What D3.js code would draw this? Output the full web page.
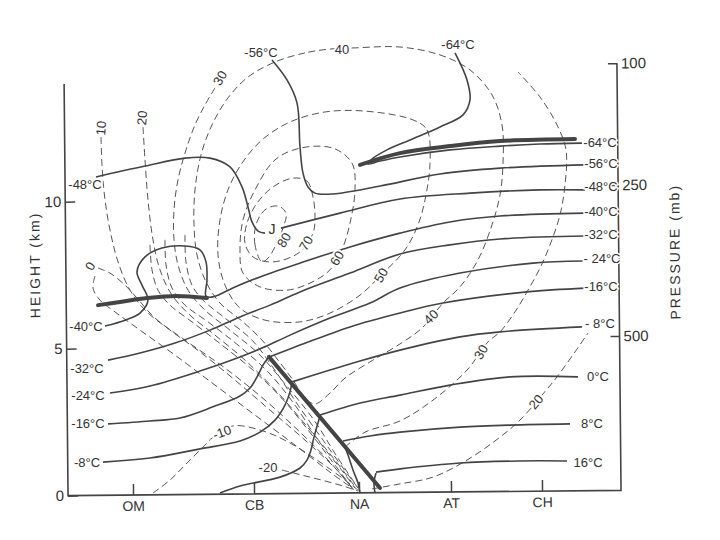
<!DOCTYPE html>
<html><head><meta charset="utf-8">
<script src="https://cdn.jsdelivr.net/npm/d3@7"></script>
<style>body{margin:0;background:#fff}text{font-family:"Liberation Sans",Arial,sans-serif}</style>
</head><body>
<svg id="c" width="720" height="540"></svg>
<script>
// ---------- DATA (distance along section in km, height in km) ----------
const stations = ["OM","CB","NA","AT","CH"];
const stationDist = [130, 372, 582, 766, 948];
const heightTicks = [0, 5, 10];
const pressureTicks = [100, 250, 500];
const pressureHeights = [14.53, 10.39, 5.25];

// isotherms (solid)
const T_m64 = [[778,14.97],[802,14.05],[808,13.37],[794,12.86],[748,12.45],[688,12.01],[642,11.67],[612,11.36],[604,11.19],[628,11.29],[668,11.43],[768,11.67],[868,11.80],[948,11.87],[1032,11.90]];
const T_m56 = [[412,14.73],[442,14.05],[462,13.27],[468,11.77],[474,10.88],[484,10.41],[498,10.20],[534,10.17],[628,10.44],[748,10.85],[868,11.05],[1038,11.16]];
const T_m48a = [[60,10.75],[158,11.12],[238,11.39],[288,11.39],[328,11.09],[352,10.41],[364,9.73],[372,9.22],[384,8.91],[398,8.84]];
const T_m48b = [[430,9.01],[548,9.52],[668,10.00],[808,10.20],[948,10.31],[1038,10.31]];
const T_m40 = [[78,5.68],[118,5.88],[148,6.12],[164,6.56],[152,7.07],[142,7.52],[158,8.03],[192,8.33],[238,8.40],[268,8.27],[280,7.86],[282,7.24],[280,6.70],[294,6.67],[338,7.01],[388,7.35],[468,7.82],[568,8.37],[668,8.84],[768,9.22],[868,9.42],[1038,9.52]];
const T_m32 = [[84,4.52],[148,4.76],[218,5.10],[288,5.54],[348,5.99],[408,6.39],[468,6.84],[568,7.48],[668,8.13],[768,8.44],[868,8.64],[1038,8.74]];
const T_m24 = [[88,3.40],[168,3.64],[268,4.15],[348,4.63],[392,4.93],[448,5.37],[528,5.95],[608,6.46],[668,6.97],[788,7.48],[934,7.82],[1034,7.89]];
const T_m16a = [[84,2.35],[168,2.45],[228,2.55],[294,2.93],[348,3.30],[368,3.57],[384,4.01],[394,4.35],[404,4.59]];
const T_m16b = [[406,4.63],[468,5.03],[568,5.65],[668,6.12],[754,6.46],[922,6.84],[1038,6.97]];
const T_m8a = [[74,1.05],[168,1.19],[268,1.50],[348,1.77],[388,2.07],[418,2.48],[438,2.99],[448,3.44],[452,3.78]];
const T_m8b = [[452,3.78],[528,4.18],[588,4.49],[668,4.86],[788,5.31],[868,5.48],[1032,5.65]];
const T_0a = [[308,0],[348,0.24],[428,0.54],[468,0.85],[482,1.12],[490,1.46],[496,1.90],[508,2.62]];
const T_0b = [[508,2.65],[588,3.06],[668,3.33],[768,3.67],[888,3.95],[1024,3.95]];
const T_8a = [[588,0],[584,0.34],[574,0.78],[564,1.29],[554,1.73]];
const T_8b = [[554,1.77],[608,1.94],[668,2.07],[788,2.24],[888,2.31],[1008,2.35]];
const T_16a = [[618,0],[616,0.37],[620,0.68]];
const T_16b = [[620,0.71],[668,0.82],[788,1.02],[908,1.09],[1002,1.09]];

// tropopause & front (thick)
const tropLeft = [[64,6.39],[108,6.50],[162,6.63],[222,6.70],[282,6.63]];
const tropRight = [[588,11.16],[668,11.56],[768,11.80],[868,11.97],[1018,12.04]];
const front = [[406,4.63],[628,0.17]];

// isotachs (dashed, m/s)
const V80 = [[392,7.86],[378,8.44],[380,9.12],[398,9.63],[424,9.76],[440,9.52],[434,9.01],[420,8.44],[404,7.99]];
const V70 = [[454,10.71],[482,10.61],[494,10.07],[498,9.39],[494,8.84],[468,8.20],[414,7.86],[374,8.03],[358,8.50],[362,9.18],[382,9.86],[414,10.41]];
const V60 = [[348,8.27],[354,9.29],[378,10.31],[418,11.33],[468,11.73],[534,11.73],[572,11.22],[578,10.31],[568,9.18],[554,8.37],[528,7.59],[488,7.14],[442,6.90],[388,7.01],[354,7.48]];
const V50 = [[694,12.69],[722,12.35],[728,11.22],[718,9.97],[704,9.12],[678,8.27],[630,7.41],[588,6.73],[528,6.12],[468,5.82],[398,5.88],[348,6.29],[318,7.07],[304,8.10],[308,9.29],[324,10.31],[352,11.22],[392,12.01],[448,12.62],[518,12.96],[598,12.99]];
const V40 = [[528,15.10],[478,14.97],[418,14.66],[364,14.15],[324,13.44],[292,12.52],[270,11.50],[258,10.31],[256,9.12],[262,8.10],[280,7.18],[308,6.46],[354,5.82],[392,5.20],[424,4.52],[454,3.84],[478,3.23],[498,3.03],[528,3.40],[558,3.91],[608,4.46],[668,5.07],[712,5.61],[754,6.46],[788,7.01],[824,7.93],[852,9.12],[868,10.14],[874,11.22],[872,12.52],[852,13.54],[808,14.39],[748,14.90],[668,15.17],[578,15.14]];
const V30L = [[298,13.78],[278,13.20],[258,12.52],[240,11.67],[224,10.65],[216,9.63],[216,8.61],[224,7.76],[244,6.90],[278,6.22],[328,5.54],[388,4.69],[440,3.67],[496,2.48],[540,1.29],[584,0.17]];
const V30R = [[558,1.56],[598,2.07],[668,2.45],[734,3.16],[802,4.18],[844,5.14],[868,5.48],[898,6.16],[922,6.84],[948,7.65],[968,8.44],[988,9.46],[998,10.48],[1000,11.67],[982,12.52],[948,13.47],[904,14.32]];
const V20L = [[154,12.45],[158,11.33],[164,9.97],[174,8.61],[188,7.59],[212,6.73],[248,6.05],[298,5.37],[358,4.52],[428,3.33],[488,2.14],[538,1.12],[580,0.17]];
const V20R = [[612,0.14],[668,0.31],[734,0.54],[802,1.12],[868,1.90],[908,2.48],[954,3.37],[982,3.95],[1018,4.80],[1044,5.44]];
const V10 = [[70,12.11],[72,11.16],[78,9.97],[90,8.78],[106,7.76],[128,6.90],[158,6.22],[208,5.54],[268,4.80],[338,3.84],[408,2.82],[478,1.80],[538,0.85],[576,0.10]];
const V0a = [[58,7.38],[54,6.97],[68,6.56],[98,6.16],[148,5.54],[218,4.69],[298,3.67],[378,2.65],[458,1.63],[528,0.71],[572,0.17]];
const V0b = [[64,7.65],[88,7.48],[118,7.07],[142,6.63],[178,5.95],[238,5.20],[318,4.25],[398,3.16],[468,2.07],[528,1.05],[572,0.17]];
const Vm10 = [[174,0],[208,0.44],[242,1.02],[278,1.63],[292,1.87],[334,2.28],[394,2.11],[448,1.70],[508,1.05],[558,0.44],[584,0.10]];
const Vm20 = [[432,0.78],[488,0.54],[548,0.27],[584,0.07]];
// unlabelled intermediate isotachs in the frontal zone
const V15 = [[168,8.44],[172,7.59],[184,6.90],[208,6.39],[252,5.82],[312,5.03],[378,4.12],[438,3.10],[492,1.97],[538,0.95],[572,0.17]];
const V25 = [[198,8.61],[200,7.76],[212,6.97],[238,6.39],[284,5.82],[344,5.03],[404,4.12],[458,2.99],[504,1.80],[548,0.85],[578,0.17]];
const V35 = [[238,8.78],[240,7.86],[252,7.07],[274,6.56],[318,5.95],[372,5.20],[420,4.12],[464,2.99],[514,1.80],[554,0.85],[584,0.17]];

// labels: [text, distance, height]
const tempLabelsLeft = [["-48°C",38,10.48],["-40°C",40,5.65],["-32°C",42,4.25],["-24°C",44,3.33],["-16°C",44,2.35],["-8°C",42,1.05]];
const tempLabelsRight = [["-64°C",1068,11.94],["-56°C",1070,11.22],["-48°C",1070,10.44],["-40°C",1070,9.59],["-32°C",1070,8.81],["- 24°C",1072,7.99],["-16°C",1070,7.04],["- 8°C",1068,5.78],["0°C",1064,3.95],["8°C",1052,2.35],["16°C",1044,1.05]];
const tempLabelsTop = [["-56°C",390,14.97],["-64°C",784,15.24]];
const isotachLabels = [["10",70,12.41],["20",152,12.76],["30",308,14.12],["40",552,15.10],["0",48,7.72],["80",436,8.61],["70",480,8.50],["60",542,7.99],["50",630,7.41],["40",730,5.99],["30",830,4.80],["20",940,3.10],["-10",312,2.07],["-20",404,0.88]];
const isotachLabelAngles = [-85,-85,-60,0,-60,-60,-60,-60,-60,-45,-60,-50,-20,0];
const jetCore = ["J",412,8.98];

// ---------- DRAW ----------
const svg = d3.select("#c");
const x = d3.scaleLinear().domain([0,1106]).range([66,619]);
const y = d3.scaleLinear().domain([0,15]).range([493, 493-15*29.4]);
const pH = d3.scaleLinear().domain(pressureTicks).range(pressureHeights);
const ink = "#444";
const txt = "#333";

const open = d3.line().x(d=>x(d[0])).y(d=>y(d[1])).curve(d3.curveCatmullRom.alpha(0.5));
const closed = d3.line().x(d=>x(d[0])).y(d=>y(d[1])).curve(d3.curveCatmullRomClosed.alpha(0.5));

// frame / axes (the scanned frame is slightly rotated)
const frame = svg.append("g").attr("transform","rotate(-0.55,343,280)");
frame.append("path").attr("d", d3.line()([[x(0),y(14.0)],[x(0),y(0)],[x(1106),y(0)],[x(1106),y(pH(100))]]))
  .attr("fill","none").attr("stroke",ink).attr("stroke-width",1.6);

const ax = frame.append("g").attr("transform",`translate(${x(0)},0)`)
  .call(d3.axisLeft(y).tickValues(heightTicks).tickSize(-10).tickPadding(4).tickFormat(d3.format("d")));
const bx = frame.append("g").attr("transform",`translate(0,${y(0)})`)
  .call(d3.axisBottom(x).tickValues(stationDist).tickSize(-11).tickPadding(6).tickFormat((d,i)=>stations[i]));
const rx = frame.append("g").attr("transform",`translate(${x(1106)},0)`)
  .call(d3.axisRight(d3.scaleLinear().domain(pressureTicks).range(pressureHeights.map(y))).tickValues(pressureTicks).tickSize(-9).tickPadding(4).tickFormat(d3.format("d")));
[ax,bx,rx].forEach(g=>{
  g.select(".domain").remove();
  g.selectAll(".tick line").attr("stroke",ink).attr("stroke-width",1.5);
  g.selectAll("text").attr("fill",txt).style("font-family",'"Liberation Sans",Arial,sans-serif');
});
ax.selectAll("text").style("font-size","15px");
bx.selectAll("text").style("font-size","14px");
rx.selectAll("text").style("font-size","15px");

frame.append("text").attr("transform",`translate(40,262) rotate(-90)`).attr("text-anchor","middle")
  .attr("fill",txt).style("font-size","14px").style("letter-spacing","2px").text("HEIGHT (km)");
frame.append("text").attr("transform",`translate(680,255) rotate(-90)`).attr("text-anchor","middle")
  .attr("fill",txt).style("font-size","14px").style("letter-spacing","2px").text("PRESSURE (mb)");

// isotachs
const dashed = svg.append("g").attr("fill","none").attr("stroke","#555").attr("stroke-width",1).attr("stroke-dasharray","7 4");
[V80,V70,V60,V50,V40].forEach(v=>dashed.append("path").attr("d",closed(v)));
[V30L,V30R,V20L,V20R,V10,V0a,V0b,Vm10,Vm20,V15,V25,V35].forEach(v=>dashed.append("path").attr("d",open(v)));

// isotherms
const solid = svg.append("g").attr("fill","none").attr("stroke",ink).attr("stroke-width",1.6);
[T_m64,T_m56,T_m48a,T_m48b,T_m40,T_m32,T_m24,T_m16a,T_m16b,T_m8a,T_m8b,T_0a,T_0b,T_8a,T_8b,T_16a,T_16b]
  .forEach(t=>solid.append("path").attr("d",open(t)));

// thick lines
const thick = svg.append("g").attr("fill","none").attr("stroke",ink).attr("stroke-width",4).attr("stroke-linecap","round");
[tropLeft,tropRight,front].forEach(t=>thick.append("path").attr("d",open(t)));

// labels
function lab(arr, anchor, size){
  svg.append("g").selectAll("text").data(arr).join("text")
    .attr("x",d=>x(d[1])).attr("y",d=>y(d[2])).attr("dy","0.35em").attr("text-anchor",anchor)
    .attr("fill",txt).style("font-size",size)
    .attr("stroke","#fff").attr("stroke-width",3).attr("paint-order","stroke").text(d=>d[0]);
}
lab(tempLabelsLeft,"middle","13px");
lab(tempLabelsRight,"middle","13px");
lab(tempLabelsTop,"middle","13px");
svg.append("g").selectAll("text").data(isotachLabels).join("text")
  .attr("transform",(d,i)=>`translate(${x(d[1])},${y(d[2])}) rotate(${isotachLabelAngles[i]})`)
  .attr("dy","0.35em").attr("text-anchor","middle").attr("fill",txt).style("font-size","13px")
  .attr("stroke","#fff").attr("stroke-width",4).attr("paint-order","stroke").text(d=>d[0]);
svg.append("text").attr("x",x(jetCore[1])).attr("y",y(jetCore[2])).attr("dy","0.35em").attr("text-anchor","middle")
  .attr("fill",txt).style("font-size","14px").attr("stroke","#fff").attr("stroke-width",3).attr("paint-order","stroke").text(jetCore[0]);
</script>
</body></html>
